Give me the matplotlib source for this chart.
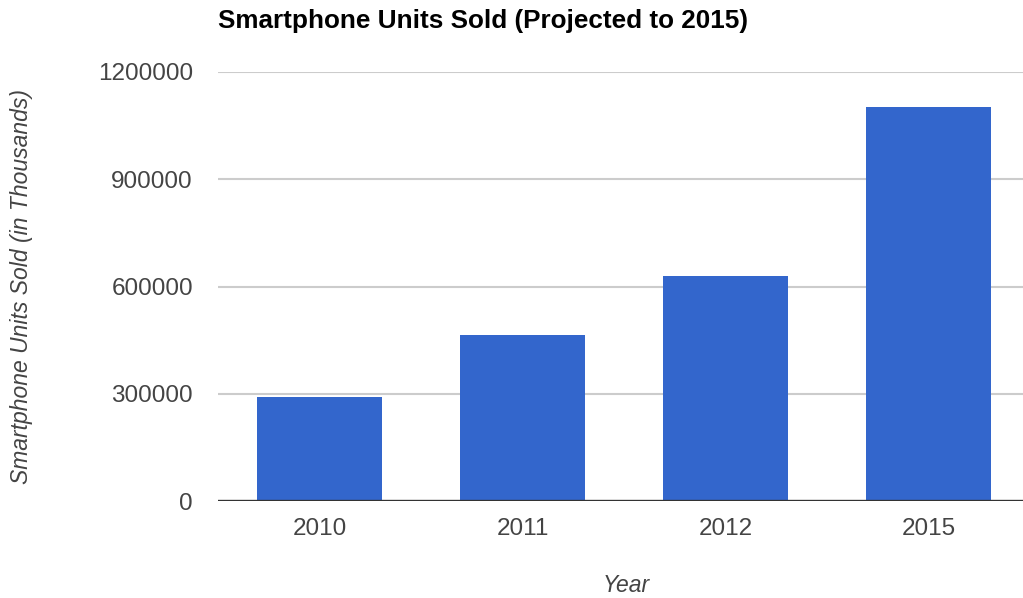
import matplotlib
matplotlib.use("Agg")
import matplotlib.pyplot as plt

years = ["2010", "2011", "2012", "2015"]
units_sold = [291000, 465000, 628000, 1103000]
y_ticks = [0, 300000, 600000, 900000, 1200000]

plt.rcParams['font.family'] = ['Liberation Sans', 'DejaVu Sans']

fig = plt.figure(figsize=(10.23, 5.98), dpi=100)
ax = fig.add_axes([218 / 1023, 1 - 501 / 598, 1 - 218 / 1023, (501 - 72) / 598])

x = range(len(years))
ax.bar(x, units_sold, width=0.616, color='#3366cc', zorder=3)

ax.set_ylim(0, 1200000)
ax.set_xlim(-0.5, 3.5 - 7 / 203)
ax.set_yticks(y_ticks)
ax.set_yticklabels([str(v) for v in y_ticks])
ax.set_xticks(list(x))
ax.set_xticklabels(years)

ax.grid(axis='y', color='#cccccc', linewidth=1.5, zorder=0)
ax.axhline(0, color='#333333', linewidth=2.4, zorder=4)
for side in ['top', 'right', 'left', 'bottom']:
    ax.spines[side].set_visible(False)
ax.tick_params(axis='both', length=0, labelsize=17.5, labelcolor='#444444')
ax.tick_params(axis='y', pad=18)
ax.tick_params(axis='x', pad=12)

# axis titles placed in figure pixels
fig.text(22 / 1023, 1 - 287 / 598, "Smartphone Units Sold (in Thousands)",
         fontsize=16.5, style='italic', color='#444444', rotation=90,
         ha='center', va='center')
fig.text(626 / 1023, 1 - 585 / 598, "Year", fontsize=16.5, style='italic',
         color='#444444', ha='center', va='center')

fig.text(218 / 1023, 1 - 21 / 598, "Smartphone Units Sold (Projected to 2015)",
         fontsize=18.8, fontweight='bold', color='#000000', ha='left', va='center')

fig.savefig("out.png", dpi=100, facecolor='white')
